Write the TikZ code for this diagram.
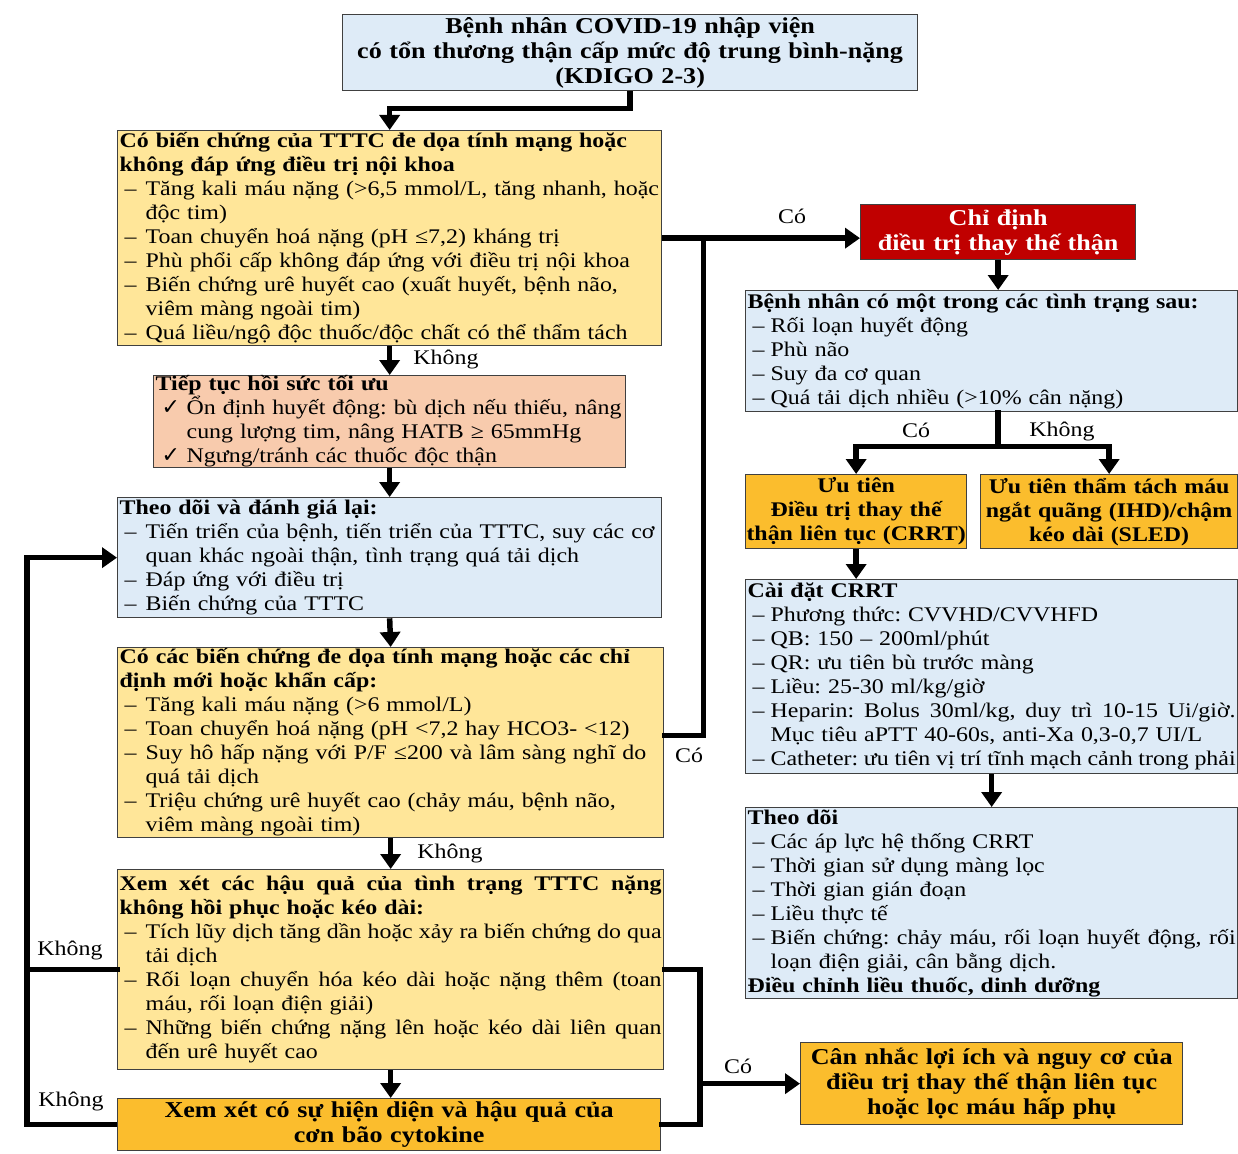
\documentclass[tikz,border=0pt]{standalone}
\usepackage{fontspec}
\setmainfont{Liberation Serif}[FakeStretch=1.15]
\newfontfamily\symf{DejaVu Sans}
\usetikzlibrary{arrows.meta,calc}
\definecolor{yel}{HTML}{FFE699}
\definecolor{sal}{HTML}{F8CBAD}
\definecolor{blu}{HTML}{DEEBF7}
\definecolor{org}{HTML}{FBBD2D}
\definecolor{redbox}{HTML}{C00000}
\definecolor{bord}{HTML}{404040}
\newcommand\nsz{\fontsize{20.8}{24}\selectfont}
\newcommand\lsz{\fontsize{22.7}{25}\selectfont}
\frenchspacing
\setlength\parindent{0pt}
\setlength\parskip{0pt}
\lineskiplimit=-100pt
\newlength\dw \setlength\dw{21pt}
\newlength\bw
\newcommand\jsp{\spaceskip=0.25em plus 1em minus 0.12em\relax}
\newcommand\itA[1]{\leavevmode\hbox{\hspace*{5pt}\makebox[\dw][l]{–}#1}}
\newcommand\itJ[1]{\leavevmode\hbox to \bw{\jsp\hspace*{5pt}\makebox[\dw][l]{–}#1}}
\newcommand\ctA[1]{\leavevmode\hbox{\hspace*{\dimexpr5pt+\dw\relax}#1}}
\newcommand\ctK[1]{\leavevmode\hbox{\hspace*{31pt}#1}}
\newcommand\hdA[1]{\leavevmode\hbox{\bfseries #1}}
\newcommand\hdJ[1]{\leavevmode\hbox to \bw{\bfseries\jsp #1}}
\newcommand\chkA[1]{\leavevmode\hbox{\hspace*{6pt}\makebox[25pt][l]{\symf\fontsize{22}{24}\selectfont ✓}#1}}
\tikzset{
  box/.style={draw=bord, line width=1.3pt, anchor=north west, inner xsep=2pt, inner ysep=0pt, font=\nsz, align=left},
  cbox/.style={draw=bord, line width=1.3pt, anchor=north west, inner xsep=0pt, inner ysep=0pt, align=center},
  rbox/.style={execute at begin node={\setlength\dw{18pt}}},
  bwid/.style={execute at begin node={\setlength\bw{#1}}},
  conn/.style={line width=5.5pt, line cap=rect, line join=miter},
  arr/.style={line width=5.5pt, line join=miter, -{Triangle[length=15pt,width=20pt]}},
  lbl/.style={font=\nsz, inner sep=0pt}
}
\begin{document}
\begin{tikzpicture}[x=1pt,y=-1pt]
\useasboundingbox (0,0) rectangle (1238,1153);
% left column
\node[cbox, fill=blu, font=\lsz\bfseries, minimum width=575pt, minimum height=76pt, text width=575pt] (title) at (342,14)
  {\mbox{Bệnh nhân COVID-19 nhập viện}\\\mbox{có tổn thương thận cấp mức độ trung bình-nặng}\\\mbox{(KDIGO 2-3)}};
\node[box, fill=yel, minimum width=544pt, minimum height=215pt, text width=540pt] (A) at (117,130) {%
\hdA{Có biến chứng của TTTC đe dọa tính mạng hoặc}\\
\hdA{không đáp ứng điều trị nội khoa}\\
\itA{Tăng kali máu nặng (>6,5 mmol/L, tăng nhanh, hoặc}\\
\ctA{độc tim)}\\
\itA{Toan chuyển hoá nặng (pH ≤7,2) kháng trị}\\
\itA{Phù phổi cấp không đáp ứng với điều trị nội khoa}\\
\itA{Biến chứng urê huyết cao (xuất huyết, bệnh não,}\\
\ctA{viêm màng ngoài tim)}\\
\itA{Quá liều/ngộ độc thuốc/độc chất có thể thẩm tách}};
\node[box, fill=sal, minimum width=472pt, minimum height=92pt, text width=468pt] (B) at (153,375) {%
\hdA{Tiếp tục hồi sức tối ưu}\\
\chkA{Ổn định huyết động: bù dịch nếu thiếu, nâng}\\
\ctK{cung lượng tim, nâng HATB ≥ 65mmHg}\\
\chkA{Ngưng/tránh các thuốc độc thận}};
\node[box, fill=blu, minimum width=544pt, minimum height=120pt, text width=540pt] (C) at (117,497) {%
\hdA{Theo dõi và đánh giá lại:}\\
\itA{Tiến triển của bệnh, tiến triển của TTTC, suy các cơ}\\
\ctA{quan khác ngoài thận, tình trạng quá tải dịch}\\
\itA{Đáp ứng với điều trị}\\
\itA{Biến chứng của TTTC}};
\node[box, fill=yel, minimum width=546pt, minimum height=190pt, text width=542pt] (D) at (117,647) {%
\hdA{Có các biến chứng đe dọa tính mạng hoặc các chỉ}\\
\hdA{định mới hoặc khẩn cấp:}\\
\itA{Tăng kali máu nặng (>6 mmol/L)}\\
\itA{Toan chuyển hoá nặng (pH <7,2 hay HCO3- <12)}\\
\itA{Suy hô hấp nặng với P/F ≤200 và lâm sàng nghĩ do}\\
\ctA{quá tải dịch}\\
\itA{Triệu chứng urê huyết cao (chảy máu, bệnh não,}\\
\ctA{viêm màng ngoài tim)}};
\node[box, bwid=542pt, fill=yel, minimum width=546pt, minimum height=200pt, text width=542pt] (E) at (117,869) {%
\hdJ{Xem xét các hậu quả của tình trạng TTTC nặng}\\
\hdA{không hồi phục hoặc kéo dài:}\\
\itJ{Tích lũy dịch tăng dần hoặc xảy ra biến chứng do qua}\\
\ctA{tải dịch}\\
\itJ{Rối loạn chuyển hóa kéo dài hoặc nặng thêm (toan}\\
\ctA{máu, rối loạn điện giải)}\\
\itJ{Những biến chứng nặng lên hoặc kéo dài liên quan}\\
\ctA{đến urê huyết cao}};
\node[cbox, fill=org, font=\lsz\bfseries, minimum width=543pt, minimum height=52pt, text width=543pt] (F) at (117,1098)
  {\mbox{Xem xét có sự hiện diện và hậu quả của}\\\mbox{cơn bão cytokine}};
% right column
\node[cbox, fill=redbox, text=white, font=\lsz\bfseries, minimum width=275pt, minimum height=55pt, text width=275pt] (red) at (860,204)
  {\mbox{Chỉ định}\\\mbox{điều trị thay thế thận}};
\node[box, rbox, fill=blu, minimum width=492pt, minimum height=121pt, text width=488pt] (R1) at (745,290) {%
\hdA{Bệnh nhân có một trong các tình trạng sau:}\\
\itA{Rối loạn huyết động}\\
\itA{Phù não}\\
\itA{Suy đa cơ quan}\\
\itA{Quá tải dịch nhiều (>10\% cân nặng)}};
\node[cbox, fill=org, font=\nsz\bfseries, minimum width=221pt, minimum height=74pt, text width=221pt] (crrt) at (745,474)
  {\mbox{Ưu tiên}\\\mbox{Điều trị thay thế}\\\mbox{thận liên tục (CRRT)}};
\node[cbox, fill=org, font=\nsz\bfseries, minimum width=257pt, minimum height=74pt, text width=257pt] (sled) at (980,474)
  {\mbox{Ưu tiên thẩm tách máu}\\\mbox{ngắt quãng (IHD)/chậm}\\\mbox{kéo dài (SLED)}};
\node[box, rbox, bwid=488pt, fill=blu, minimum width=492pt, minimum height=194pt, text width=488pt] (setup) at (745,579) {%
\hdA{Cài đặt CRRT}\\
\itA{Phương thức: CVVHD/CVVHFD}\\
\itA{QB: 150 – 200ml/phút}\\
\itA{QR: ưu tiên bù trước màng}\\
\itA{Liều: 25-30 ml/kg/giờ}\\
\itJ{Heparin: Bolus 30ml/kg, duy trì 10-15 Ui/giờ.}\\
\ctA{Mục tiêu aPTT 40-60s, anti-Xa 0,3-0,7 UI/L}\\
\itJ{Catheter: ưu tiên vị trí tĩnh mạch cảnh trong phải}};
\node[box, rbox, bwid=488pt, fill=blu, minimum width=492pt, minimum height=191pt, text width=488pt] (mon) at (745,807) {%
\hdA{Theo dõi}\\
\itA{Các áp lực hệ thống CRRT}\\
\itA{Thời gian sử dụng màng lọc}\\
\itA{Thời gian gián đoạn}\\
\itA{Liều thực tế}\\
\itJ{Biến chứng: chảy máu, rối loạn huyết động, rối}\\
\ctA{loạn điện giải, cân bằng dịch.}\\
\hdA{Điều chỉnh liều thuốc, dinh dưỡng}};
\node[cbox, fill=org, font=\lsz\bfseries, minimum width=382pt, minimum height=82pt, text width=382pt] (can) at (800,1042)
  {\mbox{Cân nhắc lợi ích và nguy cơ của}\\\mbox{điều trị thay thế thận liên tục}\\\mbox{hoặc lọc máu hấp phụ}};
% connectors
\draw[arr] (title.south) -- ++(0,17) -| (A.north);
\draw[arr] (A.south) -- (B.north);
\draw[arr] (B.south) -- (C.north);
\draw[arr] (C.south) -- (D.north);
\draw[arr] (D.south) -- (E.north);
\draw[arr] (E.south) -- (E.south |- F.north);
\coordinate (redin) at ([yshift=-6pt]red.west);
\coordinate (jR) at ($(A.east |- redin)+(41,0)$);
\draw[arr] (A.east |- redin) -- (redin);
\draw[conn] ([yshift=7pt]D.east) -| (jR);
\draw[arr] (red.south) -- (red.south |- R1.north);
\draw[conn] (red.south |- R1.south) -- ++(0,34) coordinate (br);
\draw[arr] (br) -| (crrt.north);
\draw[arr] (br) -| (sled.north);
\draw[arr] (crrt.south) -- (crrt.south |- setup.north);
\draw[arr] (setup.south) -- (setup.south |- mon.north);
\coordinate (bxv) at (700,0);
\draw[conn] (E.east) -| (can.west -| bxv);
\draw[conn] (F.east) -| (can.west -| bxv);
\draw[arr] (can.west -| bxv) -- (can.west);
\coordinate (lxv) at (27,0);
\draw[conn] (E.west) -- (E.west -| lxv);
\draw[arr] (F.west) -- (F.west -| lxv) -- (C.west -| lxv) -- (C.west);
% labels
\node[lbl] (l1) at (446,360) {Không};
\node[lbl] (l2) at (792,216) {Có};
\node[lbl] (l3) at (689,755) {Có};
\node[lbl] (l4) at (450,853) {Không};
\node[lbl] (l5) at (70,950) {Không};
\node[lbl] (l6) at (71,1101) {Không};
\node[lbl] (l7) at (916,430) {Có};
\node[lbl] (l8) at (1062,432) {Không};
\node[lbl] (l9) at (738,1066) {Có};
\end{tikzpicture}
\end{document}
